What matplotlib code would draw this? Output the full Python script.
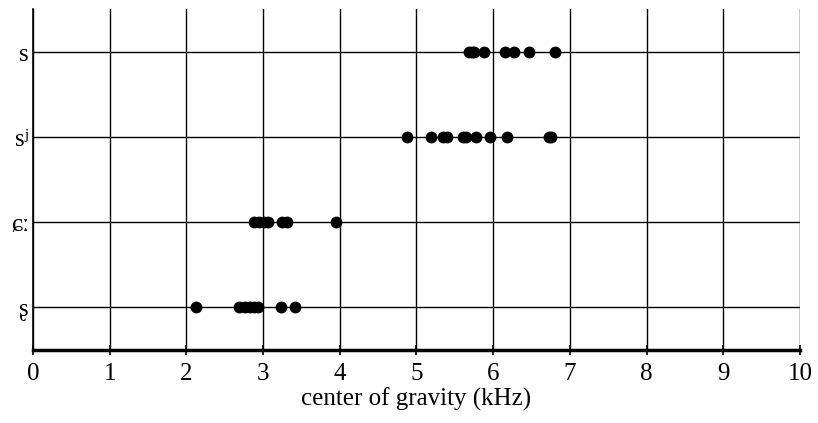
import matplotlib
matplotlib.use("Agg")
from matplotlib import pyplot as plt

# categories from bottom to top
sounds = ["\u0282", "\u0255\u02d0", "s\u02b2", "s"]

retroflex = [2.13, 2.69, 2.76, 2.83, 2.88, 2.93, 3.23, 3.42]
alveopal  = [2.88, 2.95, 3.01, 3.07, 3.25, 3.31, 3.95]
palatal_s = [4.88, 5.19, 5.34, 5.40, 5.60, 5.65, 5.78, 5.96, 6.18, 6.73, 6.76]
plain_s   = [5.68, 5.72, 5.75, 5.88, 6.16, 6.27, 6.47, 6.80]

rows = [retroflex, alveopal, palatal_s, plain_s]

plt.rcParams['font.family'] = ['Liberation Serif', 'DejaVu Serif']

fig = plt.figure(figsize=(8.18, 4.23), dpi=100)
ax = fig.add_axes([0.0403, 0.1726, 0.9377, 0.805])

for i, vals in enumerate(rows):
    ax.plot(vals, [i + 1] * len(vals), 'o', color='black', markersize=7.5, zorder=3)

ax.set_xlim(0, 10)
ax.set_ylim(0.5, 4.5)
ax.set_xticks(range(11))
ax.set_yticks([1, 2, 3, 4])
ax.set_yticklabels(sounds)
ax.grid(True, color='black', linewidth=1.0)
ax.set_axisbelow(True)

ax.spines['top'].set_visible(False)
ax.spines['right'].set_visible(False)
ax.spines['bottom'].set_linewidth(2.5)
ax.spines['left'].set_linewidth(1.2)

ax.tick_params(axis='x', direction='inout', length=7, width=1.2, labelsize=18, pad=6)
ax.tick_params(axis='y', length=0, labelsize=18, pad=3)
ax.set_xlabel("center of gravity (kHz)", fontsize=18, labelpad=2)

fig.savefig("out.png", dpi=100)
